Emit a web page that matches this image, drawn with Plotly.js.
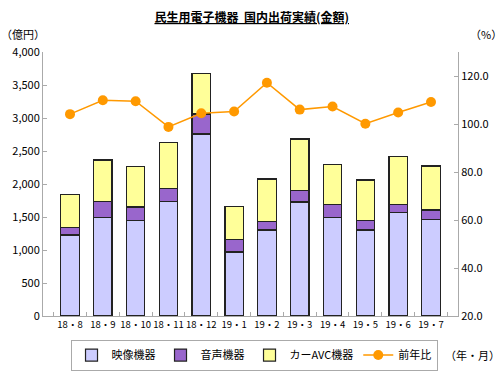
<!DOCTYPE html>
<html><head><meta charset="utf-8">
<script src="https://cdn.plot.ly/plotly-3.0.1.min.js"></script>
<style>html,body{margin:0;padding:0;background:#fff}#c{width:503px;height:371px}</style>
</head><body><div id="c"></div>
<script>
const categories = ["18・8","18・9","18・10","18・11","18・12","19・1","19・2","19・3","19・4","19・5","19・6","19・7"];
const video = [1227,1490,1450,1737,2758,970,1303,1727,1495,1303,1571,1465];
const audio = [117,242,202,192,303,192,126,177,197,141,121,141];
const carAVC = [500,632,610,697,610,495,647,778,601,617,727,667];
const yoy = [104.1,109.9,109.5,98.8,104.5,105.2,117.2,106.0,107.3,100.1,104.8,109.2];
const seriesNames = ["映像機器","音声機器","カーAVC機器","前年比"];

const F = "'Noto Sans CJK JP', 'Noto Sans', sans-serif";
const barLine = {color:'#222', width:1.2};
const traces = [
  {type:'bar', name:seriesNames[0], x:categories, y:video, marker:{color:'#CCCCFF', line:barLine}},
  {type:'bar', name:seriesNames[1], x:categories, y:audio, marker:{color:'#9966CC', line:barLine}},
  {type:'bar', name:seriesNames[2], x:categories, y:carAVC, marker:{color:'#FFFF99', line:barLine}},
  {type:'scatter', mode:'lines+markers', name:seriesNames[3], x:categories, y:yoy, yaxis:'y2',
   line:{color:'#FF9900', width:1.5}, marker:{color:'#FF9900', size:10}}
];
const layout = {
  width:503, height:371,
  margin:{l:43, r:45, t:52, b:55},
  paper_bgcolor:'#fff', plot_bgcolor:'#fff',
  barmode:'stack', bargap:0.44,
  showlegend:true,
  font:{family:F, color:'#000', size:11},
  title:{text:'<b><u>民生用電子機器  国内出荷実績(金額)</u></b>', x:0.503, xref:'paper', xanchor:'center', y:0.952, yref:'container', yanchor:'middle', font:{size:12, family:F}},
  xaxis:{type:'category', showline:true, linecolor:'#aaa', linewidth:1, ticks:'inside', tickson:'boundaries', ticklen:4, tickcolor:'#aaa',
         tickangle:0, tickfont:{size:9.5, family:F}, showgrid:false, zeroline:false, fixedrange:true},
  yaxis:{range:[0,4000], tickvals:[0,500,1000,1500,2000,2500,3000,3500,4000], tickformat:',', showline:true, linecolor:'#aaa', linewidth:1,
         ticks:'inside', ticklen:4, tickcolor:'#aaa', showgrid:false, zeroline:false, tickfont:{size:11, family:F}},
  yaxis2:{overlaying:'y', side:'right', range:[20,130], tickvals:[20,40,60,80,100,120], tickformat:'.1f', showline:true, linecolor:'#aaa', linewidth:1,
         ticks:'inside', ticklen:4, tickcolor:'#aaa', showgrid:false, zeroline:false, tickfont:{size:11, family:F}},
  legend:{orientation:'h', traceorder:'normal', xref:'container', yref:'container', x:0.505, xanchor:'center', y:0.043, yanchor:'middle',
          bordercolor:'#aaa', borderwidth:1, bgcolor:'#fff', font:{size:11, family:F}, itemwidth:30, tracegroupgap:0},
  annotations:[
    {text:'（億円）', xref:'paper', yref:'paper', x:-0.105, y:1.07, xanchor:'left', yanchor:'middle', showarrow:false, font:{size:11, family:F}},
    {text:'（%）', xref:'paper', yref:'paper', x:1.11, y:1.07, xanchor:'right', yanchor:'middle', showarrow:false, font:{size:11, family:F}},
    {text:'（年・月）', xref:'paper', yref:'paper', x:1.035, y:-0.148, xanchor:'center', yanchor:'middle', showarrow:false, font:{size:11, family:F}}
  ]
};
Plotly.newPlot('c', traces, layout, {displayModeBar:false, staticPlot:true});
</script></body></html>
